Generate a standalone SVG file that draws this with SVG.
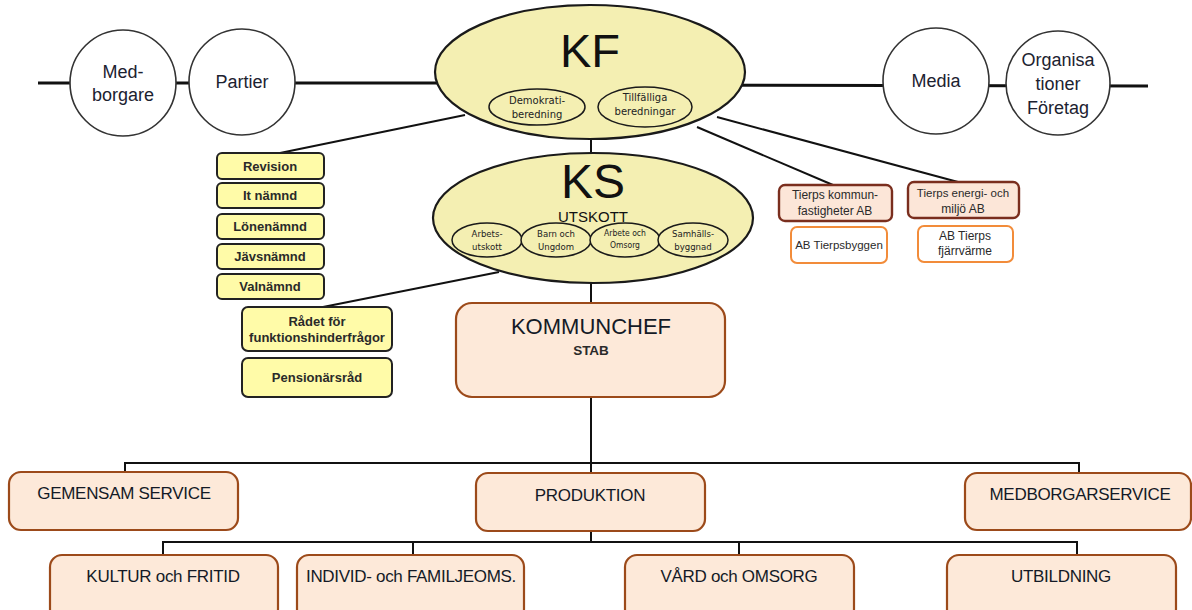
<svg xmlns="http://www.w3.org/2000/svg" width="1192" height="610" viewBox="0 0 1192 610">
<style>
.bg{fill:#ffffff}
.conn{stroke:#111;stroke-width:2;fill:none}
.thick{stroke:#111;stroke-width:3;fill:none}
.circ{fill:#fff;stroke:#333;stroke-width:1.6}
.ell{fill:#F4EFB2;stroke:#1a1a1a;stroke-width:2.2}
.sub{fill:#F4EFB2;stroke:#1a1a1a;stroke-width:1.5}
.ybox{fill:#FFFBA8;stroke:#222;stroke-width:2}
.bbox{fill:#FDE9D9;stroke:#9C4A1A;stroke-width:2.2}
.tbox{fill:#FCE6D8;stroke:#7A2E1E;stroke-width:2.4}
.obox{fill:#fff;stroke:#F28C3A;stroke-width:2}
text{font-family:"Liberation Sans",Arial,sans-serif;fill:#1c2230;text-anchor:middle}
.ct{font-size:18px}
.big{font-size:47px;fill:#111}
.st{font-family:"DejaVu Sans",sans-serif;font-size:10px;fill:#222}
.kst{font-family:"DejaVu Sans Condensed","DejaVu Sans",sans-serif;font-size:9.5px;fill:#222}
.yt{font-size:13px;font-weight:bold;fill:#2a2a2a}
.tt{font-size:12px;fill:#2a2a2a}
.bt{font-size:17px;letter-spacing:-0.3px;fill:#141a26}
</style>
<rect class="bg" x="0" y="0" width="1192" height="610"/>
<g id="connectors">
<line class="thick" x1="38" y1="83" x2="590" y2="83"/>
<line class="thick" x1="590" y1="85" x2="1148" y2="86"/>
<line class="conn" x1="591" y1="136" x2="591" y2="155"/>
<line class="conn" x1="591" y1="280" x2="591" y2="304"/>
<line class="conn" x1="465" y1="115" x2="280" y2="153"/>
<line class="conn" x1="697" y1="127" x2="833" y2="185"/>
<line class="conn" x1="717" y1="117" x2="958" y2="182"/>
<line class="conn" x1="499" y1="272" x2="323" y2="307"/>
<polyline class="conn" points="591,397 591,473"/>
<polyline class="conn" points="125,473 125,463 1079,463 1079,473"/>
<polyline class="conn" points="591,531 591,542"/>
<polyline class="conn" points="163,555 163,542 1077,542 1077,555"/>
<line class="conn" x1="413" y1="542" x2="413" y2="555"/>
<line class="conn" x1="739" y1="542" x2="739" y2="555"/>
</g>
<g id="medborgare"><circle class="circ" cx="123" cy="83" r="53"/><text class="ct" x="123" y="78">Med-</text><text class="ct" x="123" y="101">borgare</text></g>
<g id="partier"><circle class="circ" cx="242" cy="82" r="53"/><text class="ct" x="242" y="88">Partier</text></g>
<g id="media"><circle class="circ" cx="936" cy="81" r="53"/><text class="ct" x="936" y="87">Media</text></g>
<g id="organisationer"><circle class="circ" cx="1058" cy="83" r="52"/><text class="ct" x="1058" y="66">Organisa</text><text class="ct" x="1058" y="90">tioner</text><text class="ct" x="1058" y="114">Företag</text></g>
<g id="kf">
<ellipse class="ell" cx="590" cy="72" rx="155" ry="67"/>
<text class="big" x="590" y="67">KF</text>
<ellipse class="sub" cx="537" cy="107" rx="48" ry="18"/>
<text class="st" x="537" y="104">Demokrati-</text><text class="st" x="537" y="118">beredning</text>
<ellipse class="sub" cx="645" cy="107" rx="47" ry="20"/>
<text class="st" x="645" y="101">Tillfälliga</text><text class="st" x="645" y="115">beredningar</text>
</g>
<g id="ks">
<ellipse class="ell" cx="593" cy="218" rx="160" ry="65"/>
<text class="big" x="593" y="198" style="font-size:48px">KS</text>
<text x="593" y="222" style="font-size:15px;fill:#111" textLength="70" lengthAdjust="spacingAndGlyphs">UTSKOTT</text>
<ellipse class="sub" cx="487" cy="240" rx="35" ry="17"/>
<text class="kst" x="487" y="237">Arbets-</text><text class="kst" x="487" y="250">utskott</text>
<ellipse class="sub" cx="556" cy="240" rx="35" ry="17"/>
<text class="kst" x="556" y="237">Barn och</text><text class="kst" x="556" y="250">Ungdom</text>
<ellipse class="sub" cx="625" cy="240" rx="35" ry="17"/>
<text class="kst" x="625" y="236" style="font-size:8.5px">Arbete och</text><text class="kst" x="625" y="248" style="font-size:8.5px">Omsorg</text>
<ellipse class="sub" cx="693" cy="240" rx="35" ry="17"/>
<text class="kst" x="693" y="237">Samhälls-</text><text class="kst" x="693" y="250">byggnad</text>
</g>
<g id="revision"><rect class="ybox" x="217" y="153" width="107" height="26" rx="5"/><text class="yt" x="270" y="171">Revision</text></g>
<g id="itnamnd"><rect class="ybox" x="217" y="183" width="107" height="25" rx="5"/><text class="yt" x="270" y="200">It nämnd</text></g>
<g id="lonenamnd"><rect class="ybox" x="217" y="214" width="107" height="25" rx="5"/><text class="yt" x="270" y="231">Lönenämnd</text></g>
<g id="javsnamnd"><rect class="ybox" x="217" y="244" width="107" height="25" rx="5"/><text class="yt" x="270" y="261">Jävsnämnd</text></g>
<g id="valnamnd"><rect class="ybox" x="217" y="274" width="107" height="25" rx="5"/><text class="yt" x="270" y="291">Valnämnd</text></g>
<g id="radet"><rect class="ybox" x="242" y="307" width="150" height="44" rx="6"/><text class="yt" x="317" y="326">Rådet för</text><text class="yt" x="317" y="342">funktionshinderfrågor</text></g>
<g id="pensionarsrad"><rect class="ybox" x="242" y="358" width="150" height="39" rx="6"/><text class="yt" x="317" y="382">Pensionärsråd</text></g>
<g id="tierpskommun"><rect class="tbox" x="779" y="185" width="113" height="36" rx="6"/><text class="tt" x="835" y="199">Tierps kommun-</text><text class="tt" x="835" y="215">fastigheter AB</text></g>
<g id="tierpsenergi"><rect class="tbox" x="908" y="182" width="111" height="36" rx="6"/><text class="tt" x="963" y="197" style="font-size:11.5px">Tierps energi- och</text><text class="tt" x="963" y="213">miljö AB</text></g>
<g id="tierpsbyggen"><rect class="obox" x="791" y="227" width="96" height="36" rx="6"/><text class="tt" x="839" y="249" style="font-size:11.5px">AB Tierpsbyggen</text></g>
<g id="fjarrvarme"><rect class="obox" x="918" y="226" width="95" height="36" rx="6"/><text class="tt" x="965" y="240">AB Tierps</text><text class="tt" x="965" y="255">fjärrvärme</text></g>
<g id="kommunchef"><rect class="bbox" x="456" y="303" width="269" height="94" rx="16"/><text x="591" y="334" style="font-size:22px;fill:#141a26">KOMMUNCHEF</text><text x="591" y="355" style="font-size:13.5px;font-weight:bold;fill:#2a2a2a">STAB</text></g>
<g id="gemensam"><rect class="bbox" x="9" y="472" width="229" height="58" rx="12"/><text class="bt" x="124" y="499">GEMENSAM SERVICE</text></g>
<g id="produktion"><rect class="bbox" x="476" y="473" width="229" height="58" rx="12"/><text class="bt" x="590" y="501">PRODUKTION</text></g>
<g id="medborgarservice"><rect class="bbox" x="965" y="473" width="226" height="57" rx="12"/><text class="bt" x="1080" y="500">MEDBORGARSERVICE</text></g>
<g id="kultur"><rect class="bbox" x="50" y="555" width="228" height="66" rx="12"/><text class="bt" x="163" y="582">KULTUR och FRITID</text></g>
<g id="individ"><rect class="bbox" x="297" y="555" width="227" height="66" rx="12"/><text class="bt" x="411" y="582">INDIVID- och FAMILJEOMS.</text></g>
<g id="vard"><rect class="bbox" x="625" y="555" width="229" height="66" rx="12"/><text class="bt" x="739" y="582">VÅRD och OMSORG</text></g>
<g id="utbildning"><rect class="bbox" x="947" y="555" width="229" height="66" rx="12"/><text class="bt" x="1061" y="582">UTBILDNING</text></g>
</svg>
